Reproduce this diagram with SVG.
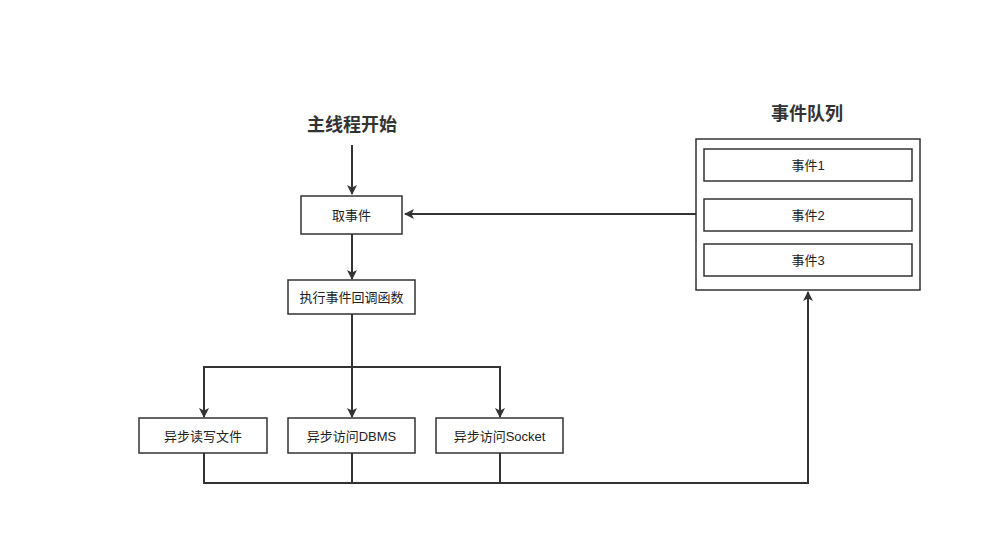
<svg xmlns="http://www.w3.org/2000/svg" width="982" height="544" viewBox="0 0 982 544">
<style>
.b{fill:#fff;stroke:#333;stroke-width:1.5}
.t{font-family:"Liberation Sans","Noto Sans CJK SC",sans-serif;font-size:13px;fill:#222;text-anchor:middle;dominant-baseline:central}
.h{font-family:"Liberation Sans","Noto Sans CJK SC",sans-serif;font-size:18px;font-weight:bold;fill:#333;text-anchor:middle;dominant-baseline:central}
.c{fill:none;stroke:#333;stroke-width:2}
</style>
<defs><marker id="a" markerWidth="10" markerHeight="10" refX="9" refY="5" orient="auto" markerUnits="userSpaceOnUse"><path d="M0,0L10,5L0,10L2.5,5Z" fill="#333"/></marker></defs>
<rect width="982" height="544" fill="#fff"/>
<g id="connectors">
<path class="c" d="M352,145V194" marker-end="url(#a)"/>
<path class="c" d="M352,234V279" marker-end="url(#a)"/>
<path class="c" d="M352,314V417"/>
<path class="c" d="M204,417V367H500V417"/>
<path class="c" d="M204,410V417" marker-end="url(#a)"/>
<path class="c" d="M352,410V417" marker-end="url(#a)"/>
<path class="c" d="M500,410V417" marker-end="url(#a)"/>
<path class="c" d="M204,453V483H808V292" marker-end="url(#a)"/>
<path class="c" d="M352,453V483M500,453V483"/>
<path class="c" d="M696,214H405" marker-end="url(#a)"/>
</g>
<g id="start"><text class="h" x="352" y="125">主线程开始</text></g>
<g id="take"><rect class="b" x="301" y="196" width="101" height="38"/><text class="t" x="351.5" y="215">取事件</text></g>
<g id="exec"><rect class="b" x="288" y="280" width="127" height="34"/><text class="t" x="351.5" y="297">执行事件回调函数</text></g>
<g id="file"><rect class="b" x="139" y="418" width="128" height="35"/><text class="t" x="203" y="436">异步读写文件</text></g>
<g id="dbms"><rect class="b" x="288" y="418" width="127" height="35"/><text class="t" x="351.5" y="436">异步访问DBMS</text></g>
<g id="socket"><rect class="b" x="436" y="418" width="127" height="35"/><text class="t" x="499.5" y="436">异步访问Socket</text></g>
<g id="queue">
<text class="h" x="807" y="114">事件队列</text>
<rect class="b" x="696" y="139" width="224" height="151"/>
<rect class="b" x="704" y="149" width="208" height="32"/><text class="t" x="808" y="165">事件1</text>
<rect class="b" x="704" y="199" width="208" height="32"/><text class="t" x="808" y="215">事件2</text>
<rect class="b" x="704" y="244" width="208" height="32"/><text class="t" x="808" y="260">事件3</text>
</g>
</svg>
